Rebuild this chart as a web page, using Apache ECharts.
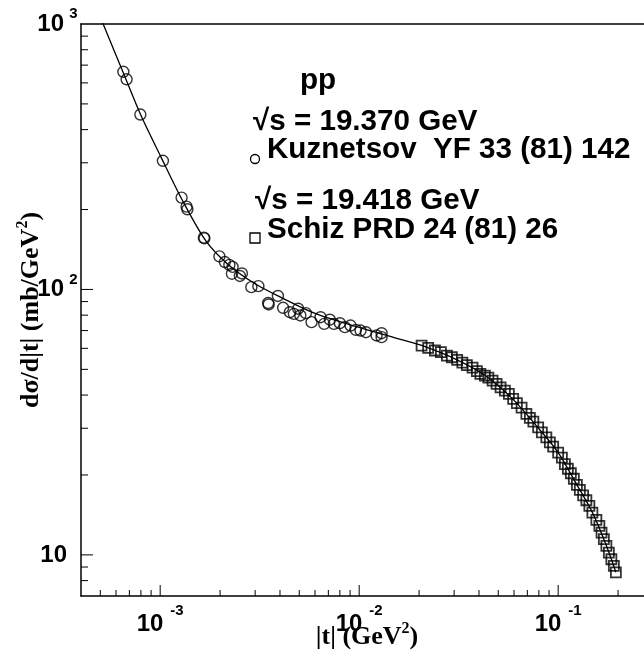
<!DOCTYPE html>
<html>
<head>
<meta charset="utf-8">
<script src="https://cdn.jsdelivr.net/npm/echarts@6/dist/echarts.min.js"></script>
<style>
  html, body { margin: 0; padding: 0; background: #fff; }
  #main { width: 644px; height: 659px; }
</style>
</head>
<body>
<div id="main"></div>
<script>
// Kuznetsov YF 33 (81) 142, sqrt(s) = 19.370 GeV  (|t| in GeV^2, dsigma/dt in mb/GeV^2)
const kuzT = [6.53e-4, 6.78e-4, 7.95e-4, 1.032e-3, 1.281e-3, 1.357e-3, 1.370e-3, 1.658e-3, 1.668e-3,
  1.984e-3, 2.114e-3, 2.227e-3, 2.311e-3, 2.293e-3, 2.515e-3, 2.574e-3, 2.872e-3, 3.115e-3, 3.489e-3,
  3.509e-3, 3.904e-3, 4.149e-3, 4.486e-3, 4.698e-3, 4.937e-3, 5.063e-3, 5.399e-3, 5.765e-3, 6.397e-3,
  6.670e-3, 7.124e-3, 7.462e-3, 7.998e-3, 8.474e-3, 9.053e-3, 9.625e-3, 1.016e-2, 1.081e-2, 1.223e-2,
  1.296e-2, 1.296e-2];
const kuzY = [660.7, 619, 456, 305.3, 221.8, 205.1, 200.4, 156.7, 155.8,
  133.2, 126.8, 123.7, 121.6, 114.6, 112.4, 114.9, 102.0, 102.9, 88.9,
  87.8, 94.5, 85.3, 82.1, 80.9, 84.6, 79.8, 81.4, 75.3, 78.6,
  74.2, 76.9, 74.2, 74.6, 72.1, 73.1, 70.4, 70.0, 69.0, 67.1,
  68.4, 66.1];

// Schiz PRD 24 (81) 26, sqrt(s) = 19.418 GeV
const schT = [0.02059, 0.02222, 0.02402, 0.02574, 0.02759, 0.02923, 0.03108, 0.03300, 0.03476, 0.03713,
  0.03904, 0.04064, 0.04282, 0.04458, 0.04681, 0.04903, 0.05135, 0.05397, 0.05653, 0.05941,
  0.06202, 0.06548, 0.06922, 0.07208, 0.07506, 0.07934, 0.08281, 0.08723, 0.09084, 0.09438,
  0.1000, 0.1044, 0.1081, 0.1119, 0.1158, 0.1199, 0.1242, 0.1285, 0.1335, 0.1386,
  0.1435, 0.1486, 0.1556, 0.1611, 0.1652, 0.1697, 0.1747, 0.1798, 0.1851, 0.1905, 0.1950];
const schY = [61.47, 60.26, 58.87, 58.01, 56.36, 55.54, 54.30, 53.04, 51.90, 50.79,
  49.27, 48.08, 47.38, 46.56, 45.36, 44.09, 42.79, 41.59, 40.41, 38.69,
  37.30, 35.87, 33.96, 32.80, 31.76, 30.23, 28.94, 27.71, 26.53, 25.56,
  24.26, 23.23, 21.99, 21.11, 20.30, 19.36, 18.37, 17.59, 16.77, 16.06,
  15.31, 14.44, 13.56, 12.87, 12.14, 11.46, 10.81, 10.20, 9.63, 9.09, 8.59];

// fitted curve
const fitT = [5.0e-4, 6.5e-4, 8e-4, 1e-3, 1.3e-3, 1.7e-3, 2.2e-3, 3e-3, 4e-3, 6e-3, 1e-2, 1.5e-2,
  2.06e-2, 3.1e-2, 4.3e-2, 5.9e-2, 7.9e-2, 0.1, 0.124, 0.149, 0.175, 0.195];
const fitY = [1062, 660, 453, 320, 215, 152, 124, 105, 93.7, 81.2, 71.9, 65.9,
  61.5, 54.3, 47.4, 38.7, 30.2, 24.3, 18.4, 14.4, 10.8, 8.6];

const xMin = 4e-4, xMax = 0.27;
const yMin = 7, yMax = 1000;

const zip = (a, b) => a.map((v, i) => [v, b[i]]);

// minor / major ticks of the log axes (ROOT style, drawn inside)
const xTicks = [];
for (let k = -4; k <= -1; k++) {
  for (let m = 1; m <= 9; m++) {
    const v = m * Math.pow(10, k);
    if (v > xMin * 1.01 && v < xMax) xTicks.push([v, yMin, m === 1 ? 1 : 0]);
  }
}
const yTicks = [];
for (let k = 0; k <= 2; k++) {
  for (let m = 1; m <= 9; m++) {
    const v = m * Math.pow(10, k);
    if (v > yMin * 1.01 && v < yMax) yTicks.push([xMin, v, m === 1 ? 1 : 0]);
  }
}

const isPow = v => Math.abs(Math.log10(v) - Math.round(Math.log10(v))) < 1e-6;

const sans = 'Liberation Sans';
const serif = 'Liberation Serif';
const annFont = 'bold 29.6px "Liberation Sans"';

const chart = echarts.init(document.getElementById('main'));

const option = {
  animation: false,
  backgroundColor: '#fff',
  grid: { left: 81, right: 0, top: 24, bottom: 63, outerBoundsMode: 'none' },
  xAxis: [
    {
      type: 'log',
      min: xMin,
      max: xMax,
      position: 'bottom',
      axisLine: { lineStyle: { color: '#000', width: 1.5 } },
      axisTick: { show: false },
      splitLine: { show: false },
      axisLabel: {
        margin: 7,
        formatter: v => isPow(v) ? '{b|10}{e|' + Math.round(Math.log10(v)) + '}' : '',
        rich: {
          b: { fontFamily: sans, fontWeight: 'bold', fontSize: 24, color: '#000' },
          e: { fontFamily: sans, fontWeight: 'bold', fontSize: 15, color: '#000', padding: [0, 0, 28, 7] }
        }
      },
      name: '|t| (GeV{s|2})',
      nameLocation: 'middle',
      nameGap: 25,
      nameMoveOverlap: false,
      nameTextStyle: {
        fontFamily: serif, fontWeight: 'bold', fontSize: 26, color: '#000',
        padding: [0, 0, 0, 9],
        rich: { s: { fontFamily: serif, fontWeight: 'bold', fontSize: 16, color: '#000', padding: [0, 0, 17, 0] } }
      }
    },
    {
      type: 'log',
      min: xMin,
      max: xMax,
      position: 'top',
      axisLine: { lineStyle: { color: '#000', width: 1.5 } },
      axisTick: { show: false },
      axisLabel: { show: false },
      splitLine: { show: false }
    }
  ],
  yAxis: {
    type: 'log',
    min: yMin,
    max: yMax,
    axisLine: { lineStyle: { color: '#000', width: 1.5 } },
    axisTick: { show: false },
    splitLine: { show: false },
    axisLabel: {
      margin: 1,
      formatter: v => {
        if (!isPow(v)) return '';
        const e = Math.round(Math.log10(v));
        return e === 1 ? '{b|10}{p| }' : '{b|10}{e|' + e + '}';
      },
      rich: {
        b: { fontFamily: sans, fontWeight: 'bold', fontSize: 24, color: '#000' },
        e: { fontFamily: sans, fontWeight: 'bold', fontSize: 15, color: '#000', width: 13, align: 'left', padding: [0, 0, 20, 3] },
        p: { fontFamily: sans, fontSize: 15, width: 13 }
      }
    },
    name: 'dσ/d|t| (mb/GeV{s|2})',
    nameLocation: 'middle',
    nameGap: 33,
    nameMoveOverlap: false,
    nameTextStyle: {
      fontFamily: serif, fontWeight: 'bold', fontSize: 26, color: '#000',
      rich: { s: { fontFamily: serif, fontWeight: 'bold', fontSize: 16, color: '#000', padding: [0, 0, 17, 0] } }
    }
  },
  graphic: [
    { type: 'text', x: 300, y: 81, style: { text: 'pp', font: annFont, fill: '#000', verticalAlign: 'middle' } },
    { type: 'text', x: 253, y: 122, style: { text: '√s = 19.370 GeV', font: annFont, fill: '#000', verticalAlign: 'middle' } },
    { type: 'text', x: 267, y: 150, style: { text: 'Kuznetsov  YF 33 (81) 142', font: annFont, fill: '#000', verticalAlign: 'middle' } },
    { type: 'text', x: 255, y: 201, style: { text: '√s = 19.418 GeV', font: annFont, fill: '#000', verticalAlign: 'middle' } },
    { type: 'text', x: 267, y: 230, style: { text: 'Schiz PRD 24 (81) 26', font: annFont, fill: '#000', verticalAlign: 'middle' } },
    { type: 'circle', shape: { cx: 255, cy: 159, r: 4.5 }, style: { fill: 'none', stroke: '#000', lineWidth: 1.3 } },
    { type: 'rect', shape: { x: 250, y: 233, width: 10, height: 10 }, style: { fill: 'none', stroke: '#000', lineWidth: 1.3 } }
  ],
  series: [
    {
      type: 'custom',
      data: xTicks,
      renderItem: (params, api) => {
        const p = api.coord([api.value(0), api.value(1)]);
        const len = api.value(2) ? 11 : 6;
        return { type: 'line', shape: { x1: p[0], y1: p[1], x2: p[0], y2: p[1] - len }, style: { stroke: '#000', lineWidth: 1 } };
      }
    },
    {
      type: 'custom',
      data: yTicks,
      renderItem: (params, api) => {
        const p = api.coord([api.value(0), api.value(1)]);
        const len = api.value(2) ? 12 : 7;
        return { type: 'line', shape: { x1: p[0], y1: p[1], x2: p[0] + len, y2: p[1] }, style: { stroke: '#000', lineWidth: 1 } };
      }
    },
    {
      name: 'fit',
      type: 'line',
      data: zip(fitT, fitY),
      smooth: 0.3,
      showSymbol: false,
      lineStyle: { color: '#000', width: 1.3 },
      clip: true
    },
    {
      name: 'Kuznetsov  YF 33 (81) 142',
      type: 'scatter',
      data: zip(kuzT, kuzY),
      symbol: 'circle',
      symbolSize: 11,
      itemStyle: { color: 'rgba(0,0,0,0)', borderColor: '#000', borderWidth: 1.4 }
    },
    {
      name: 'Schiz PRD 24 (81) 26',
      type: 'scatter',
      data: zip(schT, schY),
      symbol: 'rect',
      symbolSize: 10,
      itemStyle: { color: 'rgba(0,0,0,0)', borderColor: '#000', borderWidth: 1.8 }
    }
  ]
};

chart.setOption(option);
</script>
</body>
</html>
